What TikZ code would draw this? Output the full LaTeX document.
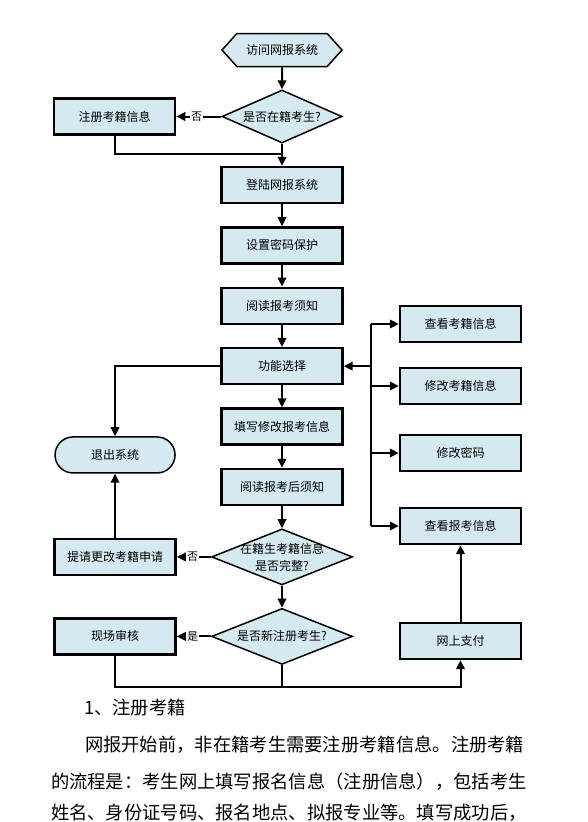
\documentclass[tikz,border=0pt]{standalone}
\usepackage{fontspec}
\setmainfont{Noto Sans CJK SC}
\usetikzlibrary{shapes.geometric, shapes.symbols, arrows.meta}
\usetikzlibrary{positioning, calc}
\definecolor{boxblue}{RGB}{212,233,240}
\tikzstyle{bodytext}=[anchor=west, inner sep=0pt, font=\fontsize{18.3}{22}\selectfont]

\begin{document}
\begin{tikzpicture}[x=1pt, y=-1pt,
 node distance=22pt,
 >={Triangle[length=9pt,width=8.5pt]},
 line width=2pt,
 squarednode/.style={rectangle, draw=black, fill=boxblue, line width=2.4pt, minimum width=121pt, minimum height=36pt, font=\fontsize{12}{14}\selectfont},
 decisionnode/.style={diamond, aspect=2.4, draw=black, fill=boxblue, line width=1.5pt, minimum width=141pt, minimum height=56pt, inner sep=0pt, align=center, font=\fontsize{12}{17}\selectfont},
 startnode/.style={signal, signal to=east and west, signal pointer angle=96, draw=black, fill=boxblue, line width=1.5pt, minimum width=120pt, minimum height=33pt, font=\fontsize{12}{14}\selectfont},
 exitnode/.style={rectangle, rounded corners=18pt, draw=black, fill=boxblue, line width=1.5pt, minimum width=120pt, minimum height=36pt, font=\fontsize{12}{14}\selectfont},
 labelnode/.style={fill=white, inner sep=1pt, font=\fontsize{11}{12}\selectfont},
 ]
 \useasboundingbox (0,0) rectangle (588,822);
 %Nodes
 \node[startnode]     (visit_node)    at (282,50) {访问网报系统};
 \node[decisionnode, minimum width=120pt, minimum height=53pt] (enrolled_node) [below=of visit_node] {\makebox[0pt]{是否在籍考生?}};
 \node[squarednode]   (login_node)    [below=of enrolled_node] {登陆网报系统};
 \node[squarednode]   (password_node) [below=of login_node] {设置密码保护};
 \node[squarednode]   (notice_node)   [below=of password_node] {阅读报考须知};
 \node[squarednode]   (function_node) [below=of notice_node] {功能选择};
 \node[squarednode]   (fill_node)     [below=of function_node] {填写修改报考信息};
 \node[squarednode]   (after_node)    [below=of fill_node] {阅读报考后须知};
 \node[decisionnode]  (complete_node) [below=of after_node] {\makebox[0pt]{在籍生考籍信息}\\\makebox[0pt]{是否完整?}};
 \node[decisionnode]  (newreg_node)   [below=of complete_node] {\makebox[0pt]{是否新注册考生?}};

 \node[squarednode]   (register_node) [left=45pt of enrolled_node] {注册考籍信息};
 \node[squarednode]   (apply_node)    [left=34pt of complete_node] {提请更改考籍申请};
 \node[squarednode]   (onsite_node)   [left=34pt of newreg_node] {现场审核};
 \node[exitnode]      (exit_node)     [above=64pt of apply_node] {退出系统};

 \node[squarednode]   (viewreg_node)  at (460.5,324) {查看考籍信息};
 \node[squarednode]   (modreg_node)   at (460.5,386) {修改考籍信息};
 \node[squarednode]   (modpwd_node)   at (460.5,453) {修改密码};
 \node[squarednode]   (viewexam_node) at (460.5,526) {查看报考信息};
 \node[squarednode]   (pay_node)      at (460.5,641) {网上支付};

 \coordinate (bus_node) at (371,0);
 \coordinate (merge_node) at ($(enrolled_node.south)!0.45!(login_node.north)$);
 \coordinate (bottom_node) at ($(newreg_node.south)+(0,22)$);

 %Lines
 \draw[->] (visit_node) -- (enrolled_node);
 \draw[->] (enrolled_node) -- (login_node);
 \draw[->] (enrolled_node.west) -- node[labelnode, pos=0.55] {否} (register_node.east);
 \draw (register_node.south) |- (merge_node);
 \draw[->] (login_node) -- (password_node);
 \draw[->] (password_node) -- (notice_node);
 \draw[->] (notice_node) -- (function_node);
 \draw[->] (function_node) -- (fill_node);
 \draw[->] (fill_node) -- (after_node);
 \draw[->] (after_node) -- (complete_node);
 \draw[->] (complete_node) -- (newreg_node);
 \draw[->] (function_node.west) -| (exit_node.north);
 \draw[->] (apply_node) -- (exit_node);
 \draw[->] (complete_node.west) -- node[labelnode, pos=0.53] {否} (apply_node.east);
 \draw[->] (newreg_node.west) -- node[labelnode, pos=0.53] {是} (onsite_node.east);
 \draw (newreg_node) -- (bottom_node);
 \draw[->] (onsite_node.south) |- (bottom_node) -| (pay_node.south);
 \draw[->] (pay_node) -- (viewexam_node);
 \draw (viewreg_node.west -| bus_node) -- (viewexam_node.west -| bus_node);
 \draw[->] (function_node.east -| bus_node) -- (function_node.east);
 \foreach \n in {viewreg_node, modreg_node, modpwd_node, viewexam_node}
   \draw[->] (\n.west -| bus_node) -- (\n.west);

 %Text
 \node[bodytext] (title_node) at (83,708) {1、注册考籍};
 \node[bodytext] (line_a_node) at (84,745) {网报开始前，非在籍考生需要注册考籍信息。注册考籍};
 \node[bodytext] (line_b_node) at (50,782) {的流程是：考生网上填写报名信息（注册信息），包括考生};
 \node[bodytext] (line_c_node) at (50,813) {姓名、身份证号码、报名地点、拟报专业等。填写成功后，};
\end{tikzpicture}
\end{document}
